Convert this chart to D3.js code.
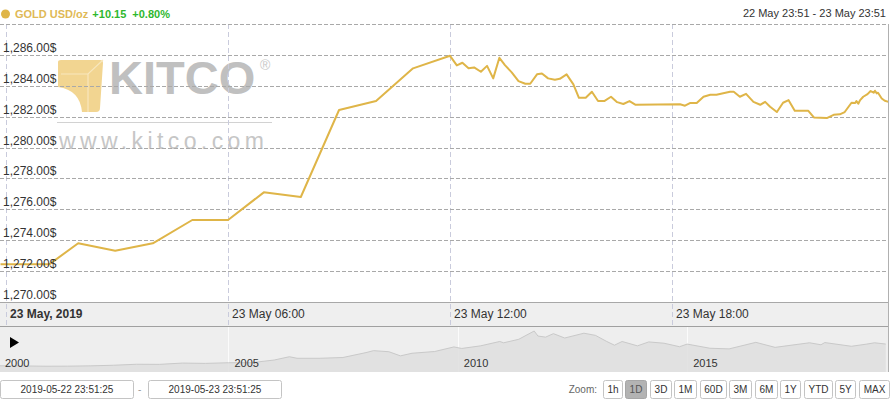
<!DOCTYPE html>
<html lang="en">
<head>
<meta charset="utf-8">
<title>Gold USD/oz</title>
<script src="https://d3js.org/d3.v7.min.js"></script>
<style>
  body { margin: 0; background: #fff; }
  svg { display: block; font-family: "Liberation Sans", Arial, sans-serif; }
</style>
</head>
<body>
<div id="chart"></div>
<script>
// intraday gold quotes (day 22 = 22 May, day 23 = 23 May 2019)
var times = ["22 23:51", "23 01:10", "23 01:57", "23 02:57", "23 03:58", "23 05:02", "23 06:00", "23 06:58",
  "23 07:58", "23 09:00", "23 10:00", "23 11:00", "23 12:00", "23 12:11", "23 12:20", "23 12:30", "23 12:39",
  "23 12:50", "23 13:00", "23 13:10", "23 13:20", "23 13:29", "23 13:40", "23 13:51", "23 14:02", "23 14:10",
  "23 14:21", "23 14:29", "23 14:39", "23 14:50", "23 14:58", "23 15:09", "23 15:20", "23 15:29", "23 15:40",
  "23 15:50", "23 16:00", "23 16:10", "23 16:21", "23 16:31", "23 16:41", "23 16:51", "23 17:01", "23 18:13",
  "23 18:21", "23 18:29", "23 18:40", "23 18:51", "23 19:02", "23 19:12", "23 19:23", "23 19:34", "23 19:40",
  "23 19:50", "23 20:00", "23 20:12", "23 20:23", "23 20:31", "23 20:39", "23 20:50", "23 21:00", "23 21:09",
  "23 21:19", "23 21:41", "23 21:50", "23 22:11", "23 22:22", "23 22:32", "23 22:40", "23 22:51", "23 22:57",
  "23 22:59", "23 23:02", "23 23:05", "23 23:10", "23 23:17", "23 23:22", "23 23:27", "23 23:29", "23 23:32",
  "23 23:34", "23 23:40", "23 23:45", "23 23:51"];
var prices = [1272.44, 1272.44, 1273.80, 1273.32, 1273.80, 1275.31, 1275.31, 1277.10,
  1276.80, 1282.43, 1283.01, 1285.13, 1285.94, 1285.32, 1285.49, 1285.13, 1285.19,
  1284.91, 1285.29, 1284.48, 1285.81, 1285.34, 1284.87, 1284.30, 1284.13, 1284.13,
  1284.74, 1284.80, 1284.48, 1284.39, 1284.45, 1284.74, 1284.09, 1283.22, 1283.22,
  1283.61, 1283.01, 1283.01, 1283.29, 1282.94, 1282.82, 1283.01, 1282.77, 1282.80,
  1282.71, 1282.88, 1282.88, 1283.29, 1283.42, 1283.42, 1283.51, 1283.61, 1283.61,
  1283.29, 1283.48, 1282.96, 1282.77, 1282.96, 1282.64, 1282.30, 1282.90, 1283.07,
  1282.38, 1282.38, 1281.95, 1281.91, 1282.12, 1282.15, 1282.30, 1282.90, 1282.88,
  1283.01, 1282.84, 1283.07, 1283.29, 1283.46, 1283.66, 1283.55, 1283.68, 1283.51,
  1283.55, 1283.18, 1283.03, 1282.96];

// long history shown in the navigator
var navDates = ["2000-01", "2000-07", "2001-01", "2001-07", "2002-01", "2002-07", "2003-01", "2003-07",
  "2004-01", "2004-07", "2005-01", "2005-07", "2006-01", "2006-05", "2006-07", "2007-01", "2007-07",
  "2008-01", "2008-03", "2008-07", "2008-10", "2009-01", "2009-07", "2009-12", "2010-02", "2010-07",
  "2010-12", "2011-01", "2011-05", "2011-09", "2011-10", "2011-12", "2012-02", "2012-05", "2012-10",
  "2013-01", "2013-04", "2013-06", "2013-08", "2013-12", "2014-03", "2014-07", "2014-11", "2015-01",
  "2015-07", "2015-12", "2016-07", "2016-12", "2017-06", "2017-09", "2017-12", "2018-01", "2018-08",
  "2018-12", "2019-02", "2019-05"];
var navPrices = [285, 280, 265, 268, 282, 310, 355, 350,
  410, 395, 425, 425, 550, 700, 630, 630, 665,
  890, 980, 930, 740, 860, 940, 1150, 1080, 1200,
  1400, 1340, 1500, 1880, 1650, 1600, 1760, 1560, 1780,
  1680, 1400, 1230, 1400, 1200, 1380, 1320, 1160, 1280,
  1090, 1060, 1360, 1130, 1270, 1340, 1250, 1350, 1180,
  1280, 1340, 1282];

var zoomLabels = ["1h", "1D", "3D", "1M", "60D", "3M", "6M", "1Y", "YTD", "5Y", "MAX"];
var selectedZoom = "1D";
var rangeFrom = "2019-05-22 23:51:25";
var rangeTo = "2019-05-23 23:51:25";

var W = 890, H = 400;
var gold = "#dfb548";

var parseT = d3.timeParse("%Y-%m-%d %H:%M");
var parseM = d3.timeParse("%Y-%m");
var data = times.map(function(t, i) {
  return { date: parseT("2019-05-" + t), value: prices[i] };
});
var navData = navDates.map(function(t, i) {
  return { date: parseM(t), value: navPrices[i] };
});

var svg = d3.select("#chart").append("svg")
  .attr("width", W)
  .attr("height", H);

// scales
var plotTop = 24, plotBottom = 302, plotRight = 888.5;
var x = d3.scaleTime()
  .domain([parseT("2019-05-22 23:51"), parseT("2019-05-23 23:51")])
  .range([0.5, plotRight]);
var y = d3.scaleLinear().domain([1270, 1288]).range([plotBottom, plotTop]);

// watermark logo
var logo = svg.append("g").attr("class", "logo");
logo.append("path")
  .attr("d", "M58,62 Q58,60 61,60 L100,60 Q103,60 103,63 L100,108 Q100,112 96,112 L82,112 Q80,90 58,87 Z")
  .attr("fill", "#f2d591");
logo.append("path")
  .attr("d", "M61,74 L88,74 L103,60 M88,74 L88,112")
  .attr("fill", "none")
  .attr("stroke", "#f8e7bd")
  .attr("stroke-width", 1.2);
logo.append("text")
  .attr("x", 109).attr("y", 94)
  .attr("font-size", 47).attr("font-weight", "bold")
  .attr("fill", "#c0c0c0")
  .text("KITCO");
logo.append("text")
  .attr("x", 260).attr("y", 70)
  .attr("font-size", 14)
  .attr("fill", "#c8c8c8")
  .text("®");
logo.append("line")
  .attr("x1", 57).attr("x2", 272).attr("y1", 122.5).attr("y2", 122.5)
  .attr("stroke", "#d2d2d2");
logo.append("text")
  .attr("x", 59).attr("y", 149)
  .attr("font-size", 23)
  .attr("letter-spacing", 4.4)
  .attr("fill", "#c6c6c6")
  .text("www.kitco.com");

// x axis band + navigator backgrounds
svg.append("rect")
  .attr("x", 0).attr("y", plotBottom).attr("width", plotRight).attr("height", 24)
  .attr("fill", "#efefef");
svg.append("rect")
  .attr("x", 0).attr("y", 326).attr("width", plotRight).attr("height", 46)
  .attr("fill", "#eeeeee");

// vertical grid
var xTicks = x.ticks(d3.timeHour.every(6));
svg.append("g").selectAll("line")
  .data(xTicks)
  .join("line")
  .attr("x1", function(d) { return Math.round(x(d)) + 0.5; })
  .attr("x2", function(d) { return Math.round(x(d)) + 0.5; })
  .attr("y1", plotTop).attr("y2", 326)
  .attr("stroke", "#c9cbdc")
  .attr("stroke-dasharray", "5,3");

// horizontal grid
var yTicks = d3.range(1270, 1289, 2);
svg.append("g").selectAll("line")
  .data(yTicks)
  .join("line")
  .attr("x1", 0).attr("x2", plotRight)
  .attr("y1", function(d) { return Math.round(y(d)) + 0.5; })
  .attr("y2", function(d) { return Math.round(y(d)) + 0.5; })
  .attr("stroke", function(d) { return d === 1270 ? "#a8a8a8" : "#a9a9a9"; })
  .attr("stroke-dasharray", function(d) { return d === 1270 ? null : "4,2"; });

// price line
var line = d3.line()
  .x(function(d) { return x(d.date); })
  .y(function(d) { return y(d.value); });
svg.append("path")
  .datum(data)
  .attr("d", line)
  .attr("fill", "none")
  .attr("stroke", gold)
  .attr("stroke-width", 2)
  .attr("stroke-linejoin", "round");

// y labels
var fmt = d3.format(",.2f");
svg.append("g").selectAll("text")
  .data(yTicks.filter(function(d) { return d < 1288; }))
  .join("text")
  .attr("x", 3)
  .attr("y", function(d) { return y(d) - 3; })
  .attr("font-size", 12)
  .attr("fill", "#333")
  .text(function(d) { return fmt(d) + "$"; });

// x labels
var fmtX = d3.timeFormat("%d %b %H:%M");
svg.append("g").selectAll("text")
  .data(xTicks)
  .join("text")
  .attr("x", function(d) { return x(d) + 4; })
  .attr("y", 318)
  .attr("font-size", 12)
  .attr("fill", "#333")
  .attr("font-weight", function(d) { return d.getHours() === 0 ? "bold" : null; })
  .text(function(d) { return d.getHours() === 0 ? d3.timeFormat("%d %b, %Y")(d) : fmtX(d); });

// navigator
var nx = d3.scaleTime()
  .domain([parseM("2000-01"), d3.timeParse("%Y-%m-%d")("2019-05-23")])
  .range([-1, plotRight]);
var ny = d3.scaleLinear().domain([0, 1950]).range([372, 329.5]);

svg.append("g").selectAll("line")
  .data(nx.ticks(d3.timeYear.every(5)))
  .join("line")
  .attr("x1", function(d) { return Math.round(nx(d)) + 0.5; })
  .attr("x2", function(d) { return Math.round(nx(d)) + 0.5; })
  .attr("y1", 327).attr("y2", 372)
  .attr("stroke", "#fbfbfb");

var area = d3.area()
  .x(function(d) { return nx(d.date); })
  .y0(372)
  .y1(function(d) { return ny(d.value); });
svg.append("path")
  .datum(navData)
  .attr("d", area)
  .attr("fill", "#dedede")
  .attr("fill-opacity", 0.85);
svg.append("path")
  .datum(navData)
  .attr("d", d3.line().x(function(d) { return nx(d.date); }).y(function(d) { return ny(d.value); }))
  .attr("fill", "none")
  .attr("stroke", "#c9c9c9");

svg.append("g").selectAll("text")
  .data(nx.ticks(d3.timeYear.every(5)))
  .join("text")
  .attr("x", function(d) { return nx(d) + 6; })
  .attr("y", 367)
  .attr("font-size", 11)
  .attr("fill", "#333")
  .text(d3.timeFormat("%Y"));

svg.append("path")
  .attr("d", "M10,337 L19,342.5 L10,348 Z")
  .attr("fill", "#000");

// frame lines
svg.append("line")
  .attr("x1", 0).attr("x2", plotRight).attr("y1", 326.5).attr("y2", 326.5)
  .attr("stroke", "#a0a0a0");
svg.append("line")
  .attr("x1", plotRight).attr("x2", plotRight).attr("y1", plotTop).attr("y2", 372)
  .attr("stroke", "#b0b0b0");

// header
svg.append("circle").attr("cx", 5.5).attr("cy", 14).attr("r", 4.5).attr("fill", gold);
var head = svg.append("text").attr("x", 15).attr("y", 18).attr("font-size", 11).attr("font-weight", "bold");
head.append("tspan").attr("fill", "#dfb956").text("GOLD USD/oz");
head.append("tspan").attr("fill", "#2eb82e").attr("dx", 4).text("+10.15");
head.append("tspan").attr("fill", "#2eb82e").attr("dx", 6).text("+0.80%");

svg.append("text")
  .attr("x", 886).attr("y", 17)
  .attr("text-anchor", "end")
  .attr("font-size", 11)
  .attr("fill", "#333")
  .text("22 May 23:51 - 23 May 23:51");

// range inputs
var inputs = svg.append("g");
[[0.5, rangeFrom], [148.5, rangeTo]].forEach(function(p) {
  inputs.append("rect")
    .attr("x", p[0]).attr("y", 380.5).attr("width", 133).attr("height", 18).attr("rx", 2)
    .attr("fill", "#fff").attr("stroke", "#c4c4c4");
  inputs.append("text")
    .attr("x", p[0] + 66.5).attr("y", 393)
    .attr("text-anchor", "middle")
    .attr("font-size", 10)
    .attr("fill", "#333")
    .text(p[1]);
});
inputs.append("text").attr("x", 138).attr("y", 393).attr("font-size", 10).attr("fill", "#999").text("-");

// zoom buttons, laid out from the right edge
var btns = svg.append("g");
var bx = plotRight;
var measured = zoomLabels.map(function(l) {
  var t = btns.append("text").attr("font-size", 10).text(l);
  var w = t.node().getComputedTextLength();
  t.remove();
  return w;
});
for (var i = zoomLabels.length - 1; i >= 0; i--) {
  var bw = Math.round(measured[i] + 8);
  bx -= bw;
  var sel = zoomLabels[i] === selectedZoom;
  btns.append("rect")
    .attr("x", Math.round(bx) + 0.5).attr("y", 380.5).attr("width", bw).attr("height", 18).attr("rx", 2)
    .attr("fill", sel ? "#b3b3b3" : "#fff")
    .attr("stroke", sel ? "#a6a6a6" : "#c4c4c4");
  btns.append("text")
    .attr("x", Math.round(bx) + 0.5 + bw / 2).attr("y", 393)
    .attr("text-anchor", "middle")
    .attr("font-size", 10)
    .attr("fill", sel ? "#555" : "#333")
    .text(zoomLabels[i]);
  bx -= 3.5;
}
btns.append("text")
  .attr("x", bx - 2).attr("y", 393)
  .attr("text-anchor", "end")
  .attr("font-size", 10)
  .attr("fill", "#666")
  .text("Zoom:");
</script>
</body>
</html>
